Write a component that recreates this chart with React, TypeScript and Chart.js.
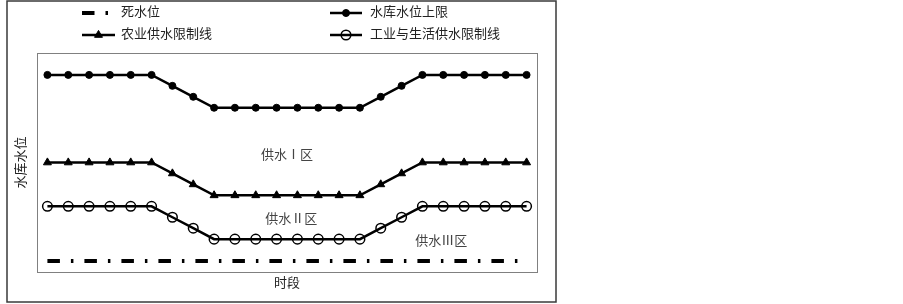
import React, { useEffect, useRef } from 'react';
import { Chart, registerables } from 'chart.js';

Chart.register(...registerables);

// ---- data ----
const periods = ['1','2','3','4','5','6','7','8','9','10','11','12','13','14','15','16','17','18','19','20','21','22','23','24'];
const upperLimit = [90, 90, 90, 90, 90, 90, 85, 80, 75, 75, 75, 75, 75, 75, 75, 75, 80, 85, 90, 90, 90, 90, 90, 90];
const agriLimit = [50, 50, 50, 50, 50, 50, 45, 40, 35, 35, 35, 35, 35, 35, 35, 35, 40, 45, 50, 50, 50, 50, 50, 50];
const induLimit = [30, 30, 30, 30, 30, 30, 25, 20, 15, 15, 15, 15, 15, 15, 15, 15, 20, 25, 30, 30, 30, 30, 30, 30];
const deadLevel = [5, 5, 5, 5, 5, 5, 5, 5, 5, 5, 5, 5, 5, 5, 5, 5, 5, 5, 5, 5, 5, 5, 5, 5];

const seriesNames = ['死水位', '水库水位上限', '农业供水限制线', '工业与生活供水限制线'];
const zoneLabels = ['供水Ⅰ区', '供水Ⅱ区', '供水Ⅲ区'];
const zoneX = [11.5, 11.7, 18.9];
const zoneY = [53, 24, 14];
const xTitle = '时段';
const yTitle = '水库水位';

const FONT = "'Liberation Serif', 'Noto Sans CJK SC', serif";
const DEAD_DASH = [12.5, 11, 2.5, 11];

function drawMarker(ctx: CanvasRenderingContext2D, style: string, x: number, y: number, r: number, fill: string | null, lw: number) {
  ctx.save();
  ctx.beginPath();
  if (style === 'triangle') {
    let rad = 0;
    ctx.moveTo(x + Math.sin(rad) * r, y - Math.cos(rad) * r);
    rad += (2 * Math.PI) / 3;
    ctx.lineTo(x + Math.sin(rad) * r, y - Math.cos(rad) * r);
    rad += (2 * Math.PI) / 3;
    ctx.lineTo(x + Math.sin(rad) * r, y - Math.cos(rad) * r);
    ctx.closePath();
  } else {
    ctx.arc(x, y, r, 0, Math.PI * 2);
  }
  if (fill) {
    ctx.fillStyle = fill;
    ctx.fill();
  }
  ctx.lineWidth = lw;
  ctx.strokeStyle = '#000';
  ctx.stroke();
  ctx.restore();
}

const decorPlugin = {
  id: 'decor',
  afterDraw(chart: any) {
    const ctx: CanvasRenderingContext2D = chart.ctx;
    const area = chart.chartArea;
    const xs = chart.scales.x;
    const ys = chart.scales.y;
    ctx.save();
    // plot frame
    ctx.strokeStyle = '#808080';
    ctx.lineWidth = 1;
    ctx.strokeRect(Math.round(area.left) + 0.5, Math.round(area.top) + 0.5, Math.round(area.right - area.left), Math.round(area.bottom - area.top));
    // outer frame
    ctx.strokeStyle = '#3a3a3a';
    ctx.lineWidth = 1.5;
    ctx.strokeRect(7, 1, 549, 301);

    // zone labels
    ctx.fillStyle = '#444';
    ctx.font = `13px ${FONT}`;
    ctx.textAlign = 'center';
    ctx.textBaseline = 'middle';
    zoneLabels.forEach((t, i) => {
      ctx.fillText(t, xs.getPixelForValue(zoneX[i]), ys.getPixelForValue(zoneY[i]));
    });

    // axis titles
    ctx.fillStyle = '#222';
    ctx.font = `13px ${FONT}`;
    ctx.fillText(xTitle, (area.left + area.right) / 2, area.bottom + 12);
    ctx.save();
    ctx.translate(22, (area.top + area.bottom) / 2);
    ctx.rotate(-Math.PI / 2);
    ctx.fillText(yTitle, 0, 0);
    ctx.restore();

    // legend
    const items = [
      { x0: 82, x1: 115, tx: 121, y: 13, ds: 0 },
      { x0: 330, x1: 362, tx: 370, y: 13, ds: 1 },
      { x0: 82, x1: 115, tx: 121, y: 35, ds: 2 },
      { x0: 330, x1: 362, tx: 370, y: 35, ds: 3 },
    ];
    items.forEach((it) => {
      const d: any = chart.data.datasets[it.ds];
      ctx.save();
      ctx.beginPath();
      ctx.strokeStyle = '#000';
      ctx.lineWidth = d.borderWidth;
      ctx.lineCap = 'butt';
      ctx.setLineDash(d.borderDash || []);
      ctx.moveTo(it.x0, it.y);
      ctx.lineTo(it.x1, it.y);
      ctx.stroke();
      ctx.restore();
      if (d.pointRadius > 0) {
        const fill = d.pointBackgroundColor === 'transparent' ? null : d.pointBackgroundColor;
        drawMarker(ctx, d.pointStyle, (it.x0 + it.x1) / 2, it.y, d.pointRadius, fill, d.pointBorderWidth);
      }
      ctx.fillStyle = '#222';
      ctx.font = `13px ${FONT}`;
      ctx.textAlign = 'left';
      ctx.textBaseline = 'middle';
      ctx.fillText(seriesNames[it.ds], it.tx, it.y);
    });
    ctx.restore();
  },
};

export default function App() {
  const ref = useRef<HTMLCanvasElement | null>(null);
  useEffect(() => {
    if (!ref.current) return;
    const chart = new Chart(ref.current, {
      type: 'line',
      data: {
        labels: periods,
        datasets: [
          {
            label: seriesNames[0],
            data: deadLevel,
            borderColor: '#000',
            borderWidth: 4,
            borderDash: DEAD_DASH,
            borderCapStyle: 'butt',
            pointRadius: 0,
            pointStyle: 'circle',
            pointBackgroundColor: '#000',
            pointBorderWidth: 0,
          },
          {
            label: seriesNames[1],
            data: upperLimit,
            borderColor: '#000',
            borderWidth: 2.5,
            pointRadius: 3.5,
            pointStyle: 'circle',
            pointBackgroundColor: '#000',
            pointBorderColor: '#000',
            pointBorderWidth: 1,
          },
          {
            label: seriesNames[2],
            data: agriLimit,
            borderColor: '#000',
            borderWidth: 2.5,
            pointRadius: 4.6,
            pointStyle: 'triangle',
            pointBackgroundColor: '#000',
            pointBorderColor: '#000',
            pointBorderWidth: 1,
          },
          {
            label: seriesNames[3],
            data: induLimit,
            borderColor: '#000',
            borderWidth: 2.5,
            pointRadius: 4.8,
            pointStyle: 'circle',
            pointBackgroundColor: 'transparent',
            pointBorderColor: '#000',
            pointBorderWidth: 1.5,
          },
        ] as any,
      },
      options: {
        responsive: false,
        animation: false,
        devicePixelRatio: 1,
        layout: { padding: { left: 37, top: 53, right: 23, bottom: 32 } },
        plugins: { legend: { display: false }, tooltip: { enabled: false } },
        elements: { line: { tension: 0 } },
        scales: {
          x: { type: 'category', offset: true, display: false },
          y: { type: 'linear', min: 0, max: 100, display: false },
        },
      } as any,
      plugins: [decorPlugin],
    });
    return () => chart.destroy();
  }, []);
  return (
    <div style={{ position: 'absolute', left: 0, top: 0, width: 903, height: 304, background: '#fff' }}>
      <canvas ref={ref} width={560} height={304} style={{ display: 'block' }} />
    </div>
  );
}
